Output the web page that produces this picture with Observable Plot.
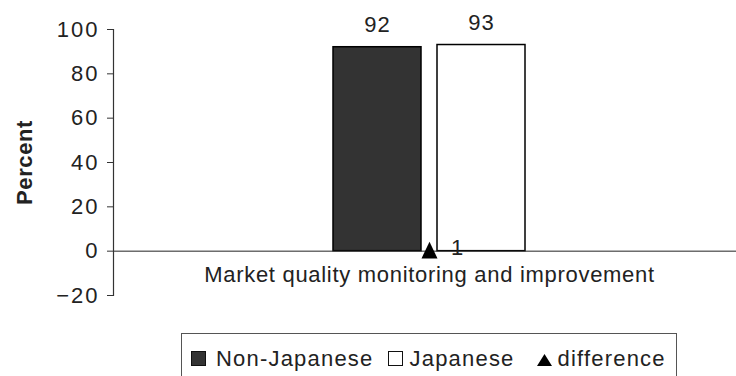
<!DOCTYPE html>
<html><head><meta charset="utf-8">
<script src="https://cdn.jsdelivr.net/npm/d3@7"></script>
<script src="https://cdn.jsdelivr.net/npm/@observablehq/plot@0.6"></script>
<style>
html,body{margin:0;padding:0;background:#fff;overflow:hidden;}
body{font-family:"Liberation Sans",Arial,sans-serif;color:#222;width:736px;height:376px;position:relative;}
#chart svg text{letter-spacing:1px;}
#legend{position:absolute;left:181px;top:333px;width:496px;height:60px;border:1px solid #555;box-sizing:border-box;
  padding-top:14px;padding-left:9px;font-size:22px;line-height:22px;letter-spacing:1.2px;white-space:nowrap;}
#legend .sw{display:inline-block;width:15px;height:15px;border:1.3px solid #111;box-sizing:border-box;vertical-align:baseline;}
#legend svg{vertical-align:baseline;}
</style></head><body>
<div id="chart"></div>
<div id="legend"></div>
<script>
const categories = ["Market quality monitoring and improvement"];
const seriesNames = ["Non-Japanese", "Japanese"];
const nonJapanese = [92];
const japanese = [93];
const difference = [1];
const yTicks = [-20, 0, 20, 40, 60, 80, 100];
const seriesColors = ["#333333", "#ffffff"];
const yLabel = "Percent";
const differenceName = "difference";

const bars = [
  {series: seriesNames[0], value: nonJapanese[0]},
  {series: seriesNames[1], value: japanese[0]}
];

const triangle = {
  draw(ctx) {
    ctx.moveTo(0, -7.2);
    ctx.lineTo(8, 9.5);
    ctx.lineTo(-8, 9.5);
    ctx.closePath();
  }
};

const chart = Plot.plot({
  width: 736,
  height: 320,
  marginLeft: 113,
  marginRight: -9,
  marginTop: 29,
  marginBottom: 25,
  style: {fontFamily: "'Liberation Sans', Arial, sans-serif", color: "#222", background: "#fff"},
  x: {domain: seriesNames, paddingInner: 0.154, paddingOuter: 2.115, axis: null},
  y: {domain: [-20, 100], axis: null},
  color: {domain: seriesNames, range: seriesColors},
  marks: [
    Plot.barY(bars, {x: "series", y: "value", fill: "series", stroke: "#000", strokeWidth: 1.5}),
    Plot.ruleY([0], {stroke: "#222", strokeWidth: 1}),
    Plot.frame({anchor: "left", stroke: "#333", strokeWidth: 1.2}),
    Plot.axisY({ticks: yTicks, tickSize: 6, tickPadding: 8, fontSize: 22, label: null, stroke: "#333"}),
    Plot.text(bars, {x: "series", y: "value", text: d => d.value, dy: -22.5, fontSize: 22, fill: "#222"}),
    Plot.dot(difference, {y: d => d, symbol: triangle, fill: "#000", stroke: null}),
    Plot.text(difference, {y: d => d, text: d => d, dx: 28, dy: -1, fontSize: 22, fill: "#222"}),
    Plot.text(categories, {y: () => 0, text: d => d, dy: 24, fontSize: 22, fill: "#222"}),
    Plot.text([yLabel], {frameAnchor: "left", textAnchor: "middle", rotate: -90, dx: -89, text: d => d, fontSize: 22, fontWeight: "bold", fill: "#222"})
  ]
});
document.getElementById("chart").append(chart);
d3.select(chart).selectAll("text").filter(function() { return this.textContent === yLabel; })
  .style("letter-spacing", "0.6px");
d3.select(chart).selectAll("text").filter(function() { return this.textContent === categories[0]; })
  .style("letter-spacing", "0.7px");
d3.select(chart).selectAll("text").filter(function() { return yTicks.map(String).concat(yTicks.map(d => d < 0 ? "−" + (-d) : String(d))).includes(this.textContent); })
  .style("letter-spacing", "2px");

const legend = document.getElementById("legend");
function addSwatch(color, marginLeft) {
  const sw = document.createElement("span");
  sw.className = "sw";
  sw.style.background = color;
  sw.style.marginLeft = marginLeft + "px";
  sw.style.marginRight = (color === seriesColors[0] ? 10 : 7) + "px";
  legend.append(sw);
}
function addText(t) {
  legend.append(document.createTextNode(t));
}
addSwatch(seriesColors[0], 0);
addText(seriesNames[0]);
addSwatch(seriesColors[1], 14);
addText(seriesNames[1]);
const triSvg = d3.create("svg").attr("width", 15).attr("height", 12)
  .style("margin-left", "22px").style("margin-right", "6px");
triSvg.append("path").attr("d", "M7.5,0L15,12L0,12Z").attr("fill", "#000");
legend.append(triSvg.node());
addText(differenceName);
</script>
</body></html>
